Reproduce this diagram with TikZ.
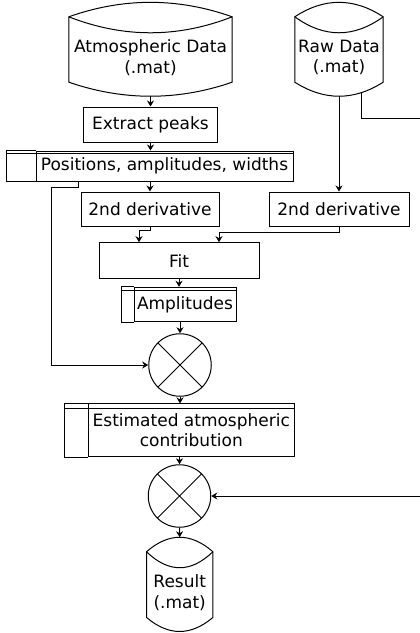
\documentclass[tikz,border=0pt]{standalone}
\usepackage{fontspec}
\setmainfont{DejaVu Sans}
\usetikzlibrary{positioning,calc,arrows.meta}

% data store outline round a named node
\newcommand{\drawstore}[1]{%
  \draw[line width=1pt] ([yshift=16pt]#1.north west)
      .. controls ([yshift=35.3pt]$(#1.north west)!0.333!(#1.north east)$)
              and ([yshift=35.3pt]$(#1.north west)!0.667!(#1.north east)$) .. ([yshift=16pt]#1.north east)
      -- (#1.south east)
      .. controls ([yshift=-18.7pt]$(#1.south west)!0.667!(#1.south east)$)
              and ([yshift=-18.7pt]$(#1.south west)!0.333!(#1.south east)$) .. (#1.south west)
      -- cycle;
  \draw[line width=1pt] ([yshift=16pt]#1.north west)
      .. controls ([yshift=-5.3pt]$(#1.north west)!0.333!(#1.north east)$)
              and ([yshift=-5.3pt]$(#1.north west)!0.667!(#1.north east)$) .. ([yshift=16pt]#1.north east);
  \coordinate (#1-top) at ([yshift=30.5pt]#1.north);
  \coordinate (#1-bottom) at ([yshift=-14pt]#1.south);
}

% left part and double top line of a record box
\newcommand{\drawrecord}[3]{%
  \draw[line width=1pt] (#1.north west) -- ++(-#2pt,0pt) |- (#1.south west);
  \draw[line width=1pt] ([xshift=-#2pt,yshift=-#3pt]#1.north west) -- ([yshift=-#3pt]#1.north east);
}

\begin{document}
\begin{tikzpicture}[
        x=1pt, y=-1pt,
        every node/.style={font=\fontsize{17}{20.5}\selectfont},
        box/.style={rectangle, draw=black, line width=1pt, inner sep=2pt, align=center},
        store/.style={rectangle, inner sep=0pt, align=center},
        record/.style={box},
        mixer/.style={circle, draw=black, line width=1pt, minimum size=62.5pt, inner sep=0pt,
            path picture={\draw[line width=1pt] (path picture bounding box.north west) -- (path picture bounding box.south east)
                (path picture bounding box.north east) -- (path picture bounding box.south west);}},
        flow/.style={-{Stealth[length=6pt,width=7pt]}, line width=1pt}
    ]
    \useasboundingbox (0,0) rectangle (420,633);
    \clip (0,0) rectangle (420,633);

    % Inputs
    \node[store, minimum width=163pt, minimum height=49pt] (atmos) at (150.5,57.5) {Atmospheric Data\\(.mat)};
    \node[store, minimum width=88pt, minimum height=49pt] (raw) at (339,57.5) {Raw Data\\(.mat)};
    \drawstore{atmos}
    \drawstore{raw}

    % Processing
    \node[box, minimum width=134pt, minimum height=35pt] (extract) at (150.5,124.5) {Extract peaks};
    \node[record, minimum width=257pt, minimum height=30pt] (positions) at (164.5,166) {Positions, amplitudes, widths};
    \drawrecord{positions}{29}{3.3}
    \node[box, minimum width=138pt, minimum height=34pt] (deriv1) at (150,209) {2nd derivative};
    \node[box, minimum width=140pt, minimum height=34pt] (deriv2) at (339,209) {2nd derivative};
    \node[box, minimum width=160pt, minimum height=36pt] (fit) at (179,260.7) {Fit};
    \node[record, minimum width=102pt, minimum height=34.4pt] (amps) at (185,304.5) {Amplitudes};
    \drawrecord{amps}{11.6}{3.4}
    \node[mixer] (mixer1) at (180,365) {};
    \node[record, minimum width=206pt, minimum height=52.7pt] (estim) at (191.3,430.3) {Estimated atmospheric\\contribution};
    \drawrecord{estim}{23.3}{5}
    \node[mixer] (mixer2) at (179.5,496) {};

    % Output
    \node[store, minimum width=66pt, minimum height=49.3pt] (result) at (179.7,592.6) {Result\\(.mat)};
    \drawstore{result}

    \coordinate (detour) at (430,118);

    % Connections
    \draw[flow] (atmos-bottom) -- (atmos-bottom |- extract.north);
    \draw[flow] (extract.south) -- (extract.south |- positions.north);
    \draw[flow] (deriv1.north |- positions.south) -- (deriv1.north);
    \draw[flow] ([xshift=43pt]positions.south west) -- ++(0,6) -| ([xshift=-97pt]mixer1.west) -- (mixer1.west);
    \draw[flow] (raw-bottom) -- (deriv2.north);
    \draw[flow] ([xshift=22pt,yshift=-11pt]raw.south) |- (detour) |- (mixer2.east);
    \draw[flow] (deriv1.south) -- ++(0,4) -| ([xshift=-40pt]fit.north);
    \draw[flow] (deriv2.south) -- ++(0,6) -| ([xshift=40pt]fit.north);
    \draw[flow] (fit.south) -- (fit.south |- amps.north);
    \draw[flow] (mixer1.north |- amps.south) -- (mixer1.north);
    \draw[flow] (mixer1.south) -- (mixer1.south |- estim.north);
    \draw[flow] (mixer2.north |- estim.south) -- (mixer2.north);
    \draw[flow] (mixer2.south) -- (result-top);

\end{tikzpicture}
\end{document}
